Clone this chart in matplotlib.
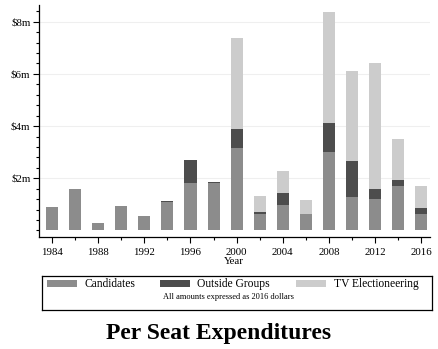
import matplotlib
matplotlib.use("Agg")
import matplotlib.pyplot as plt
import numpy as np
from matplotlib.patches import Rectangle

years = [1984, 1986, 1988, 1990, 1992, 1994, 1996, 1998, 2000,
         2002, 2004, 2006, 2008, 2010, 2012, 2014, 2016]
# per seat spending, millions of 2016 dollars
candidates = [0.90, 1.59, 0.29, 0.94, 0.56, 1.09, 1.83, 1.83, 3.17,
              0.64, 0.98, 0.63, 3.01, 1.30, 1.21, 1.70, 0.63]
outside = [0.00, 0.00, 0.00, 0.00, 0.00, 0.04, 0.87, 0.04, 0.72,
           0.06, 0.47, 0.00, 1.11, 1.37, 0.38, 0.23, 0.23]
tv = [0.00, 0.00, 0.00, 0.00, 0.00, 0.00, 0.00, 0.00, 3.50,
      0.63, 0.83, 0.54, 4.25, 3.44, 4.83, 1.59, 0.84]
series_names = ["Candidates", "Outside Groups", "TV Electioneering"]
colors = ["#8c8c8c", "#4d4d4d", "#cccccc"]
ytick_vals = [2, 4, 6, 8]
ytick_labels = ["$2m", "$4m", "$6m", "$8m"]
xtick_vals = [1984, 1988, 1992, 1996, 2000, 2004, 2008, 2012, 2016]

plt.rcParams["font.family"] = ["Liberation Serif", "DejaVu Serif"]

fig = plt.figure(figsize=(4.38, 3.49), dpi=100)
ax = fig.add_axes([0.0884, 0.3209, 0.8933, 0.6648])

bottom = np.zeros(len(years))
for vals, col in zip([candidates, outside, tv], colors):
    ax.bar(years, vals, bottom=bottom, width=1.05, color=col, linewidth=0, zorder=2)
    bottom += np.array(vals)

ax.set_xlim(1982.85, 2016.75)
ax.set_ylim(-0.25, 8.64)
for v in ytick_vals:
    ax.axhline(v, color="#efefef", lw=0.8, zorder=1)

ax.set_yticks(ytick_vals)
ax.set_yticklabels(ytick_labels)
ax.set_yticks(np.arange(0, 8.5, 0.4), minor=True)
ax.set_xticks(xtick_vals)
ax.set_xticks(range(1986, 2016, 4), minor=True)
ax.tick_params(axis="both", which="major", length=4, width=0.8, labelsize=7.8)
ax.tick_params(axis="x", which="major", pad=4)
ax.tick_params(axis="y", which="major", pad=2)
ax.tick_params(axis="both", which="minor", length=2.2, width=0.8)
ax.set_xlabel("Year", fontsize=7.8, labelpad=0)

for s in ["top", "right"]:
    ax.spines[s].set_visible(False)
for s in ["left", "bottom"]:
    ax.spines[s].set_linewidth(0.9)

# legend box
lax = fig.add_axes([0.0959, 0.1117, 0.8904, 0.0975])
lax.set_xlim(42, 432)
lax.set_ylim(310, 276)
lax.set_xticks([])
lax.set_yticks([])
for s in lax.spines.values():
    s.set_linewidth(0.9)
patch_x = [47, 160, 296]
label_x = [84, 197, 334]
for px, lx, name, col in zip(patch_x, label_x, series_names, colors):
    lax.add_patch(Rectangle((px, 280), 30, 7.3, color=col, lw=0))
    lax.text(lx, 283.8, name, fontsize=8.3, va="center", ha="left")
lax.text(228, 296.5, "All amounts expressed as 2016 dollars", fontsize=6,
         ha="center", va="center")

fig.text(0.5, 1 - 333 / 349, "Per Seat Expenditures", fontsize=17,
         fontweight="bold", ha="center", va="center")

fig.savefig("out.png", dpi=100)
